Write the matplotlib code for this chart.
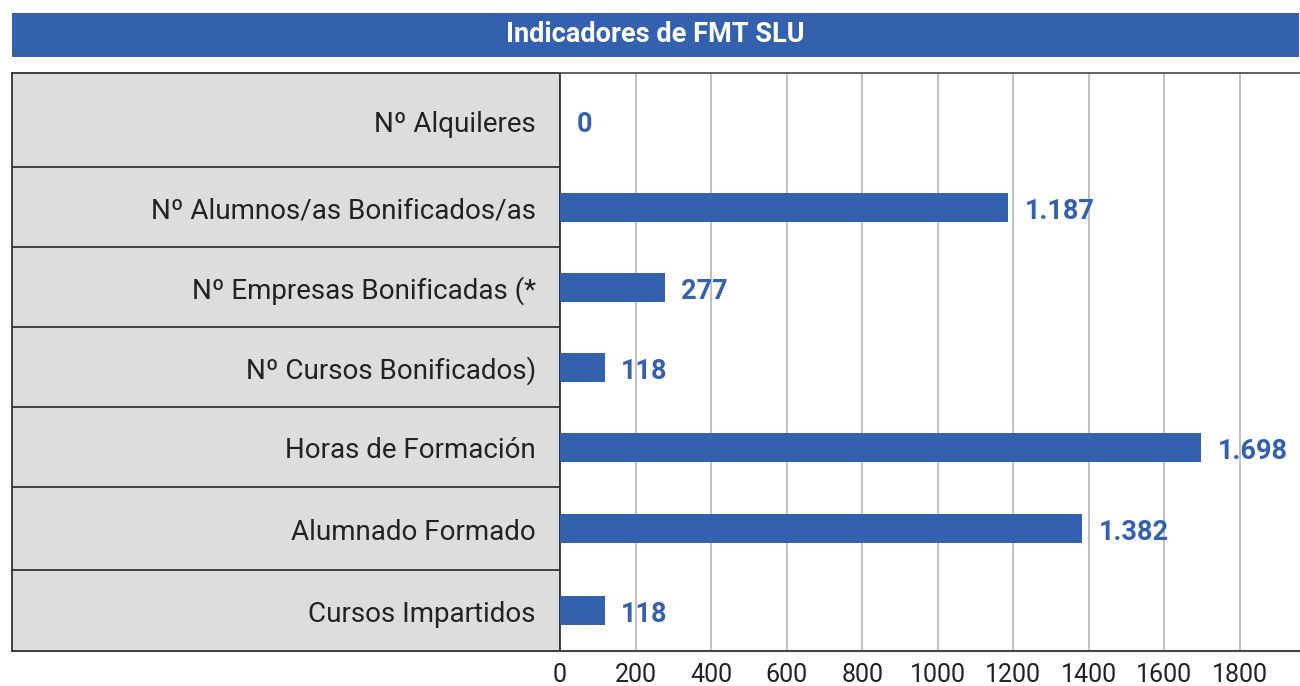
import matplotlib
matplotlib.use("Agg")
import matplotlib.pyplot as plt
import numpy as np

# ---- data ----
categories = ["Nº Alquileres", "Nº Alumnos/as Bonificados/as", "Nº Empresas Bonificadas (*",
              "Nº Cursos Bonificados)", "Horas de Formación", "Alumnado Formado", "Cursos Impartidos"]
values = [0, 1187, 277, 118, 1698, 1382, 118]
value_labels = ["0", "1.187", "277", "118", "1.698", "1.382", "118"]
tick_values = [0, 200, 400, 600, 800, 1000, 1200, 1400, 1600, 1800]
title = "Indicadores de FMT SLU"

# ---- style / layout ----
BLUE = "#3461AD"
GRAY = "#DCDDDF"
DARK = "#333333"
W, H = 1300, 686
plt.rcParams["font.family"] = ["Roboto", "DejaVu Sans"]

fig = plt.figure(figsize=(W / 100, H / 100), dpi=100)

def px_axes(x0, y0, x1, y1):
    return fig.add_axes([x0 / W, 1 - y1 / H, (x1 - x0) / W, (y1 - y0) / H])

# title bar
tax = px_axes(12, 13, 1299, 57)
tax.set_facecolor(BLUE)
tax.set_xticks([]); tax.set_yticks([])
for s in tax.spines.values():
    s.set_visible(False)
tax.text(0.5, 0.5, title, ha="center", va="center", color="white",
         fontsize=19.5, fontweight="bold", transform=tax.transAxes)

# row layout (relative row heights)
row_heights = np.array([94, 80, 80, 80, 80, 83, 81], dtype=float)
edges = np.concatenate([[0], np.cumsum(row_heights)])
centers = (edges[:-1] + edges[1:]) / 2
total = edges[-1]

TOP, BOT = 73, 651
ZERO_X, RIGHT_X = 560, 1299

# left label panel
lax = px_axes(12, TOP, ZERO_X, BOT)
lax.set_facecolor(GRAY)
lax.set_xlim(0, 1)
lax.set_ylim(total, 0)
lax.set_xticks([]); lax.set_yticks([])
for s in lax.spines.values():
    s.set_color(DARK); s.set_linewidth(1.3)
for e in edges[1:-1]:
    lax.axhline(e, color=DARK, lw=1.3)
for c, lab in zip(centers, categories):
    lax.text((536 - 12) / (ZERO_X - 12), c + 4, lab, ha="right", va="center",
             fontsize=20, color="#222222")

# bar panel
ax = px_axes(ZERO_X, TOP, RIGHT_X, BOT)
xmax = 1800 + (RIGHT_X - 1240) / ((1240 - ZERO_X) / 1800)
ax.set_xlim(0, xmax)
ax.set_ylim(total, 0)
ax.barh(centers, values, height=29, color=BLUE, zorder=3)
for c, v, t in zip(centers, values, value_labels):
    ax.annotate(t, xy=(v, c), xytext=(12, -3), textcoords="offset points",
                ha="left", va="center", color=BLUE, fontsize=19.5, fontweight="bold", zorder=4)
ax.set_xticks(tick_values)
ax.set_xticklabels([str(t) for t in tick_values], fontsize=18, color="#222222")
ax.tick_params(axis="x", length=0, pad=9)
ax.set_yticks([])
for t in tick_values[1:]:
    ax.axvline(t, color="#BBBBBB", lw=1.3, zorder=1)
ax.spines["right"].set_visible(False)
ax.spines["top"].set_color("#555555"); ax.spines["top"].set_linewidth(1.3)
ax.spines["bottom"].set_color("#444444"); ax.spines["bottom"].set_linewidth(1.5)
ax.spines["left"].set_color(DARK); ax.spines["left"].set_linewidth(1.3)

fig.savefig("out.png", dpi=100)
